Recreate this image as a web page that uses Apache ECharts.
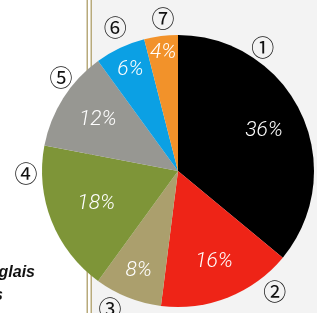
<!DOCTYPE html>
<html>
<head>
<meta charset="utf-8">
<script src="https://cdn.jsdelivr.net/npm/echarts@6/dist/echarts.min.js"></script>
<style>
  html, body { margin: 0; padding: 0; background: #fff; }
  #chart { width: 317px; height: 313px; }
</style>
</head>
<body>
<div id="chart"></div>
<script>
const categories = ['1', '2', '3', '4', '5', '6', '7']
const shares = [36, 16, 8, 18, 12, 6, 4]
const markers = ['①', '②', '③', '④', '⑤', '⑥', '⑦']
const sliceColors = ['#000000', '#ee2417', '#ab9f6d', '#7e9538', '#979792', '#0ba0e4', '#f2922a']

// pie geometry and where the labels sit (angle clockwise from top, distance from centre)
const cx = 178, cy = 171, r = 136
const pctDist = [95, 98, 107, 88, 95, 112, 119]
const markerPos = [[34.4, 150], [141.1, 154], [206.4, 153], [269.2, 152], [308.8, 150], [336.4, 157], [354.4, 153]]

const total = shares.reduce((a, b) => a + b, 0)
const midAngles = []
let acc = 0
shares.forEach(v => {
  midAngles.push((acc + v / 2) / total * 360)
  acc += v
})

const polar = (a, d) => {
  const rad = a * Math.PI / 180
  return { x: cx + d * Math.sin(rad), y: cy - d * Math.cos(rad) }
}

const pieData = categories.map((c, i) => ({
  name: c,
  value: shares[i],
  itemStyle: { color: sliceColors[i] }
}))

const chart = echarts.init(document.getElementById('chart'))

chart.setOption({
  animation: false,
  backgroundColor: '#ffffff',
  graphic: [
    { type: 'rect', z: -10, shape: { x: 92, y: 0, width: 225, height: 313 }, style: { fill: '#f3f3f3' } },
    { type: 'rect', z: -9, shape: { x: 86.5, y: 0, width: 1.5, height: 313 }, style: { fill: '#b8aa7b' } },
    { type: 'rect', z: -9, shape: { x: 90.5, y: 0, width: 1.5, height: 313 }, style: { fill: '#b8aa7b' } },
    { type: 'text', z: -9, x: 35, y: 273, style: { text: 'Anglais', align: 'right', verticalAlign: 'middle', fill: '#111', font: 'italic bold 16px "Liberation Sans", Arial, sans-serif' } },
    { type: 'text', z: -9, x: 3, y: 296, style: { text: 'Français', align: 'right', verticalAlign: 'middle', fill: '#111', font: 'italic bold 16px "Liberation Sans", Arial, sans-serif' } }
  ],
  series: [
    {
      type: 'pie',
      center: [cx, cy],
      radius: r,
      startAngle: 90,
      clockwise: true,
      silent: true,
      avoidLabelOverlap: false,
      data: pieData,
      label: {
        show: true,
        position: 'inside',
        formatter: '{c}%',
        color: '#ffffff',
        fontFamily: 'Roboto',
        fontWeight: 300,
        fontStyle: 'italic',
        fontSize: 21
      },
      labelLine: { show: false },
      labelLayout: p => {
        const pt = polar(midAngles[p.dataIndex], pctDist[p.dataIndex])
        return { x: pt.x, y: pt.y, align: 'center', verticalAlign: 'middle' }
      }
    },
    {
      type: 'pie',
      center: [cx, cy],
      radius: r,
      startAngle: 90,
      clockwise: true,
      silent: true,
      avoidLabelOverlap: false,
      data: pieData.map(d => ({ name: d.name, value: d.value, itemStyle: { color: 'rgba(0,0,0,0)' } })),
      label: {
        show: true,
        position: 'inside',
        formatter: p => markers[p.dataIndex],
        color: '#111111',
        fontFamily: '"Noto Sans CJK JP"',
        fontSize: 23
      },
      labelLine: { show: false },
      labelLayout: p => {
        const pt = polar(markerPos[p.dataIndex][0], markerPos[p.dataIndex][1])
        return { x: pt.x, y: pt.y, align: 'center', verticalAlign: 'middle' }
      }
    }
  ]
})
</script>
</body>
</html>
